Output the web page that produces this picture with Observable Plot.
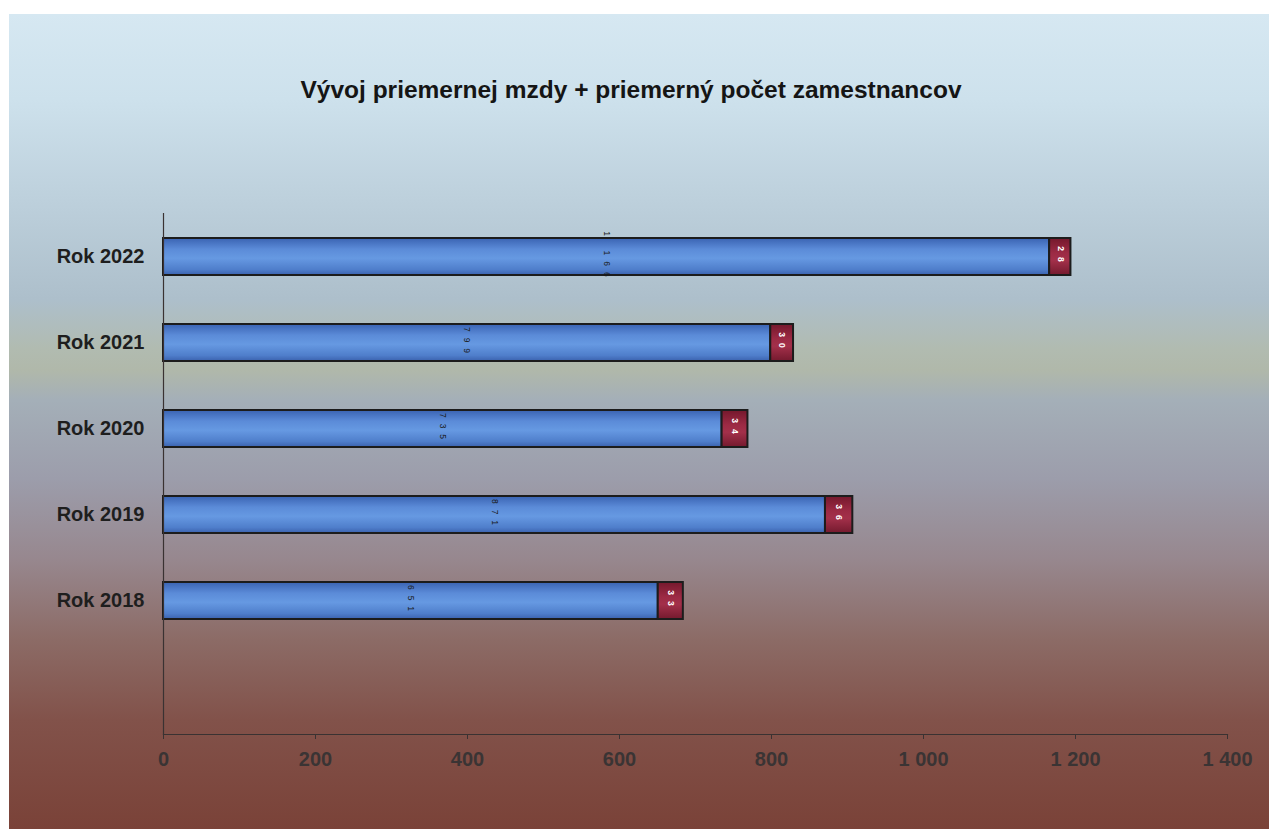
<!DOCTYPE html>
<html>
<head>
<meta charset="utf-8">
<script src="https://cdn.jsdelivr.net/npm/d3@7"></script>
<script src="https://cdn.jsdelivr.net/npm/@observablehq/plot@0.6"></script>
<style>
  html, body { margin: 0; padding: 0; background: #fff; }
  #wrap { position: relative; width: 1269px; height: 829px; overflow: hidden; background: #fff; }
  #bg { position: absolute; left: 9px; top: 14px; right: 0; bottom: 0;
    background: linear-gradient(to bottom,
      #d6e8f2 0%, #cde1ec 10.5%, #bdd0dc 22.8%, #adbfcb 35%, #b1bbb0 41.2%, #b0b8aa 43.7%,
      #a4afb8 47.4%, #9c9dab 57%, #97878e 67%, #8c6b66 76.8%, #82524a 86.6%, #7a4238 100%); }
  #title { position: absolute; left: 0; width: 1262px; top: 78px; text-align: center;
    font-family: "Liberation Sans", Arial, sans-serif; font-weight: bold; font-size: 24.5px;
    line-height: 24px; color: #151515; }
  #chart { position: absolute; left: 0; top: 0; }
</style>
</head>
<body>
<div id="wrap">
  <div id="bg"></div>
  <div id="title">Vývoj priemernej mzdy + priemerný počet zamestnancov</div>
  <div id="chart"></div>
</div>
<script>
const categories = ["Rok 2022", "Rok 2021", "Rok 2020", "Rok 2019", "Rok 2018"];
const wages = [1166, 799, 735, 871, 651];
const employees = [28, 30, 34, 36, 33];
const seriesNames = ["Priemerná mzda", "Priemerný počet zamestnancov"];
const xTicks = [0, 200, 400, 600, 800, 1000, 1200, 1400];

const locale = d3.formatLocale({decimal: ",", thousands: " ", grouping: [3], currency: ["", " €"]});
const fmt = locale.format(",d");

const data = categories.flatMap((rok, i) => [
  {rok, series: seriesNames[0], value: wages[i]},
  {rok, series: seriesNames[1], value: employees[i]}
]);

const svg = Plot.plot({
  width: 1269,
  height: 829,
  marginLeft: 163,
  marginRight: 42,
  marginTop: 213,
  marginBottom: 95,
  style: {background: "transparent", fontFamily: "'Liberation Sans', Arial, sans-serif", overflow: "visible"},
  x: {domain: [0, 1400], ticks: xTicks, tickFormat: fmt, label: null},
  y: {domain: categories, range: [211.5, 645.7], paddingInner: 0.574, paddingOuter: 0.287, label: null},
  color: {domain: seriesNames, range: ["url(#gBlue)", "url(#gRed)"]},
  marks: [
    Plot.barX(data, Plot.stackX({x: "value", y: "rok", fill: "series", stroke: "#1c1c1c", strokeWidth: 2})),
    Plot.textX(data, Plot.stackX({x: "value", y: "rok", text: d => d.series === seriesNames[0] ? fmt(d.value) : "",
      rotate: 90, fontSize: 8.5, fill: "#1a1a1a"})),
    Plot.textX(data, Plot.stackX({x: "value", y: "rok", text: d => d.series === seriesNames[1] ? fmt(d.value) : "",
      rotate: 90, fontSize: 8.5, fill: "#ffffff", fontWeight: "bold"})),
    Plot.frame({anchor: "bottom", stroke: "#3a3232", strokeWidth: 1.2}),
    Plot.frame({anchor: "left", stroke: "#3a3232", strokeWidth: 1.2}),
    Plot.axisX({ticks: xTicks, tickFormat: fmt, tickSize: 5, tickPadding: 12, fontSize: 20, fontWeight: "bold",
      fill: "#3a3434", stroke: "#3a3232", label: null}),
    Plot.axisY({tickSize: 0, tickPadding: 19, fontSize: 20, fontWeight: "bold", fill: "#1e1e1e", label: null})
  ]
});

const s = d3.select(svg);
const defs = s.insert("defs", ":first-child");
const gb = defs.append("linearGradient").attr("id", "gBlue").attr("x1", 0).attr("y1", 0).attr("x2", 0).attr("y2", 1);
[[0, "#3a63b2"], [0.3, "#5b8bd8"], [0.55, "#6699e2"], [0.85, "#4f7ecb"], [1, "#3b62ae"]]
  .forEach(([o, c]) => gb.append("stop").attr("offset", o).attr("stop-color", c));
const gr = defs.append("linearGradient").attr("id", "gRed").attr("x1", 0).attr("y1", 0).attr("x2", 0).attr("y2", 1);
[[0, "#74182c"], [0.4, "#9c2a44"], [0.6, "#a3304a"], [1, "#741a2e"]]
  .forEach(([o, c]) => gr.append("stop").attr("offset", o).attr("stop-color", c));

s.selectAll("g[aria-label='text'] text").attr("letter-spacing", 6);

document.getElementById("chart").appendChild(svg);
</script>
</body>
</html>
